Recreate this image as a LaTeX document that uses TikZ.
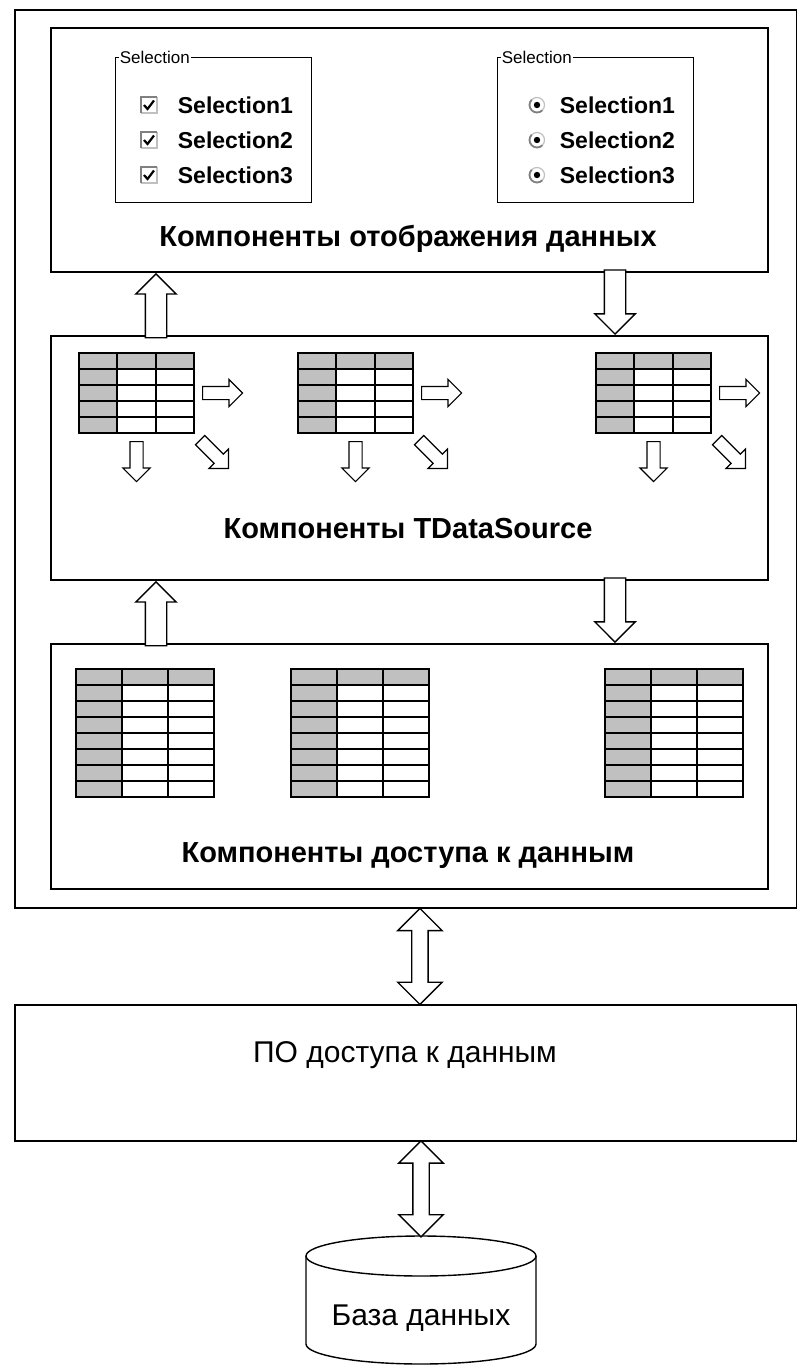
\documentclass[tikz,border=0pt]{standalone}
\usepackage{fontspec}
\setmainfont{Liberation Sans}
\usetikzlibrary{positioning,shapes.arrows,calc}

\definecolor{cellgray}{RGB}{192,192,192}
\definecolor{edgegray}{RGB}{128,128,128}

\begin{document}
\begin{tikzpicture}[x=1pt, y=-1pt, line width=1.8pt,
    frame/.style={draw, rectangle, anchor=north west, inner sep=0pt},
    title/.style={font=\fontsize{29}{33}\selectfont\bfseries, anchor=base},
    plain/.style={font=\fontsize{30}{34}\selectfont, anchor=base},
    item/.style={font=\fontsize{23}{27}\selectfont\bfseries, anchor=west, inner sep=0pt},
    grp/.style={font=\fontsize{17}{20}\selectfont, anchor=west, fill=white, inner sep=1pt},
    bigarr/.style={draw, fill=white, single arrow, line width=1.4pt, inner xsep=0pt, inner ysep=10pt,
        minimum height=64pt, single arrow head extend=9.5pt},
    dblarr/.style={draw, fill=white, double arrow, line width=1.4pt, inner xsep=0pt, inner ysep=7.5pt,
        minimum height=96pt, double arrow head extend=14pt},
    smallarr/.style={draw, fill=white, single arrow, line width=1.2pt, inner xsep=0pt, inner ysep=6pt,
        minimum height=40pt, single arrow head extend=7pt},
    stbl/.pic={
        \fill[cellgray] (0,0) rectangle (115,16) (0,0) rectangle (38.3,80);
        \draw (0,0) rectangle (115,80);
        \foreach \c in {38.3,76.7} \draw (\c,0) -- (\c,80);
        \foreach \r in {16,32,48,64} \draw (0,\r) -- (115,\r);
    },
    btbl/.pic={
        \fill[cellgray] (0,0) rectangle (138,16) (0,0) rectangle (46,128);
        \draw (0,0) rectangle (138,128);
        \foreach \c in {46,92} \draw (\c,0) -- (\c,128);
        \foreach \r in {16,32,...,112} \draw (0,\r) -- (138,\r);
    }]
    \fill[white] (0,0) rectangle (797,1365);
    \useasboundingbox (0,0) rectangle (797,1365);

    % frames
    \node[frame, minimum width=782pt, minimum height=898pt] (app) at (14,9) {};
    \node[frame, minimum width=717pt, minimum height=244pt] (disp) at (50,27) {};
    \node[frame, minimum width=717pt, minimum height=244pt] (src) at (50,335) {};
    \node[frame, minimum width=717pt, minimum height=245pt] (acc) at (50,643) {};
    \node[frame, minimum width=782pt, minimum height=136pt] (po) at (14,1004) {};

    % group boxes
    \node[frame, line width=1.4pt, minimum width=196pt, minimum height=145pt] (chk) at (115,57) {};
    \node[grp] (chklbl) at (118,57) {Selection};
    \node[frame, line width=1.4pt, minimum width=196pt, minimum height=145pt] (rad) at (497,57) {};
    \node[grp] (radlbl) at (500,57) {Selection};

    \foreach \i/\y in {1/105,2/140,3/175} {
        \draw[cellgray, line width=1.2pt] (141,\y+8) -- (157,\y+8) -- (157,\y-8);
        \draw[edgegray, line width=2pt] (141,\y+8) -- (141,\y-8) -- (157,\y-8);
        \draw[line width=2.2pt] (144,\y) -- (147.5,\y+4) -- (154,\y-4.5);
        \node[item] (c\i) at (177,\y) {Selection\i};
        \draw[cellgray, line width=1.2pt] (537,\y) circle (7.5);
        \draw[edgegray, line width=1.8pt] (537,\y) ++(45:7.5) arc (45:225:7.5);
        \fill (537,\y) circle (3.2);
        \node[item] (r\i) at (559,\y) {Selection\i};
    }
    \node[title] (t1) at (408,246) {Компоненты отображения данных};

    % tables of TDataSource
    \foreach \n/\x in {1/79,2/298,3/596} {
        \pic at (\x,353) {stbl};
        \node[smallarr, anchor=tail] (e\n) at (\x+123,393) {};
        \node[smallarr, anchor=tail, rotate=-90] (s\n) at (\x+57.5,441) {};
        \node[smallarr, anchor=tip, rotate=-45] (g\n) at (\x+150,469) {};
    }
    \node[title] (t2) at (408,538) {Компоненты TDataSource};

    % tables of data access
    \foreach \x in {76,291,605} \pic at (\x,669) {btbl};
    \node[title] (t3) at (408,862) {Компоненты доступа к данным};

    \node[plain] (t4) at (405,1062) {ПО доступа к данным};

    % database
    \coordinate (dbtop) at (421,1236);
    \draw[line width=1.4pt] (421,1256) ellipse [x radius=115, y radius=20];
    \draw[line width=1.4pt] (306,1256) -- (306,1344) arc [start angle=180, end angle=0, x radius=115, y radius=20] -- (536,1256);
    \node[plain] (db) at (421,1325) {База данных};

    % arrows between layers
    \node[bigarr, anchor=tip, rotate=90] (up1) at ([xshift=106pt]disp.south west) {};
    \node[bigarr, anchor=tip, rotate=-90] (dn1) at ([xshift=565pt]src.north west) {};
    \node[bigarr, anchor=tip, rotate=90] (up2) at ([xshift=106pt]src.south west) {};
    \node[bigarr, anchor=tip, rotate=-90] (dn2) at ([xshift=565pt]acc.north west) {};
    \node[dblarr, rotate=90] (io1) at ([xshift=14pt]$(app.south)!.5!(po.north)$) {};
    \node[dblarr, rotate=90] (io2) at ($(po.south -| dbtop)!.5!(dbtop)$) {};
\end{tikzpicture}
\end{document}
